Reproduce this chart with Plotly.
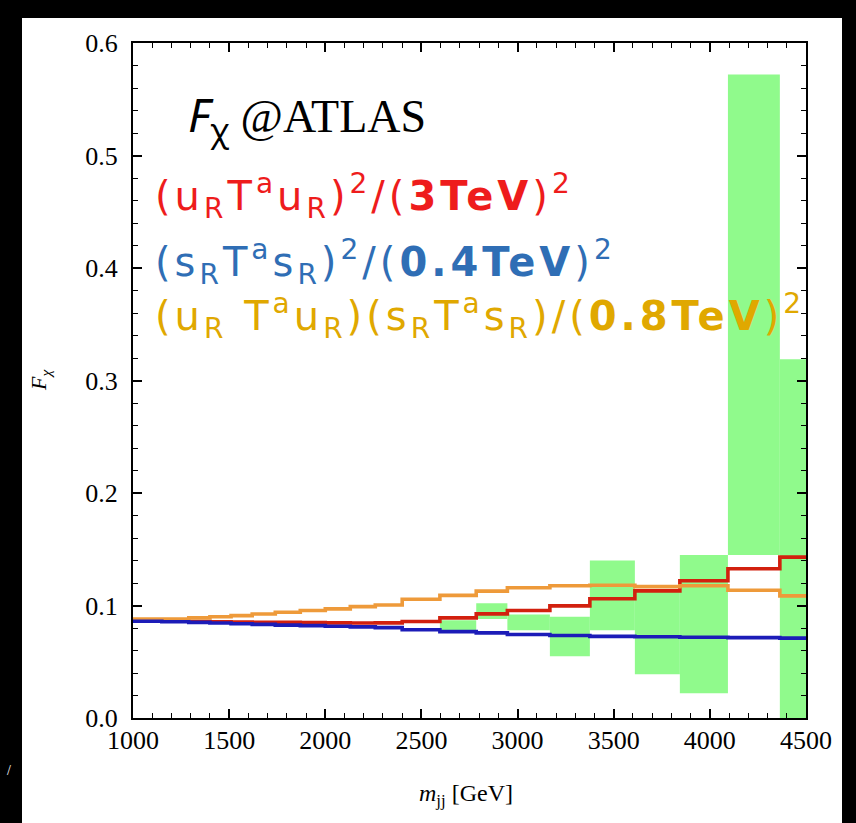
import plotly.graph_objects as go

# ---- data ----
bin_edges = [1000, 1150, 1290, 1400, 1510, 1620, 1740, 1870, 2000, 2130, 2260,
             2400, 2596, 2785, 2947, 3168, 3376, 3610, 3844, 4094, 4364, 4500]
uu_values = [0.086, 0.086, 0.0858, 0.0855, 0.0853, 0.085, 0.085, 0.0848, 0.0846, 0.0845, 0.0846,
             0.0858, 0.089, 0.0926, 0.0955, 0.0997, 0.106, 0.113, 0.122, 0.1327, 0.143]
ss_values = [0.086, 0.0856, 0.085, 0.0845, 0.0838, 0.0832, 0.0826, 0.0821, 0.0815, 0.081, 0.0803,
             0.0785, 0.0768, 0.0757, 0.0742, 0.0733, 0.0726, 0.0722, 0.0718, 0.0714, 0.071]
us_values = [0.088, 0.088, 0.089, 0.090, 0.091, 0.0925, 0.094, 0.0955, 0.097, 0.099, 0.1005,
             0.1055, 0.109, 0.1128, 0.1158, 0.1175, 0.118, 0.1168, 0.1175, 0.1135, 0.1086]

data_edges = [2596, 2785, 2947, 3168, 3376, 3610, 3844, 4094, 4364, 4500]
data_low = [0.078, 0.088, 0.078, 0.055, 0.078, 0.039, 0.022, 0.145, 0.0]
data_high = [0.087, 0.102, 0.092, 0.090, 0.140, 0.112, 0.145, 0.572, 0.319]

x_ticks = [1000, 1500, 2000, 2500, 3000, 3500, 4000, 4500]
y_ticks = [0.0, 0.1, 0.2, 0.3, 0.4, 0.5, 0.6]

# ---- figure ----
fig = go.Figure()

centers = [(a + b) / 2 for a, b in zip(data_edges[:-1], data_edges[1:])]
widths = [b - a for a, b in zip(data_edges[:-1], data_edges[1:])]
fig.add_trace(go.Bar(x=centers, width=widths, base=data_low,
                     y=[h - l for h, l in zip(data_high, data_low)],
                     marker=dict(color="rgb(144,250,140)", line=dict(width=0)),
                     showlegend=False, hoverinfo="skip"))

def step(vals, color, w=3.6):
    fig.add_trace(go.Scatter(x=bin_edges, y=vals + [vals[-1]], mode="lines",
                             line=dict(color=color, width=w, shape="hv"),
                             showlegend=False))

step(uu_values, "#D2200E")
step(us_values, "#EE9A3A")
step(ss_values, "#1C1CB8")

W, H = 856, 823
L, R, T, B = 133, 50, 43, 105
pw, ph = W - L - R, H - T - B

def px(x):
    return (x - L) / pw

def py(y):
    return (H - B - y) / ph

serif = "Liberation Serif"
hand = "DejaVu Sans"
sp = "<span style='letter-spacing:4px'>{}</span>"

fig.update_layout(
    width=W, height=H,
    margin=dict(l=L, r=R, t=T, b=B),
    paper_bgcolor="black",
    plot_bgcolor="white",
    font=dict(family=serif, color="black"),
    barmode="overlay",
    showlegend=False,
    shapes=[dict(type="rect", xref="paper", yref="paper", layer="below",
                 x0=px(22), x1=px(842), y0=py(823), y1=py(18),
                 fillcolor="white", line=dict(width=0))],
    annotations=[
        dict(x=px(186), y=py(117), xref="paper", yref="paper", xanchor="left", yanchor="middle",
             showarrow=False,
             text="<span style='font-family:Noto Sans'><i>F</i><sub>χ</sub></span> @ATLAS",
             font=dict(family=serif, size=46, color="black")),
        dict(x=px(153), y=py(196), xref="paper", yref="paper", xanchor="left", yanchor="middle",
             showarrow=False,
             text=sp.format("(u<sub>R</sub>T<sup>a</sup>u<sub>R</sub>)<sup>2</sup>/(<b>3TeV</b>)<sup>2</sup>"),
             font=dict(family=hand, size=40, color="#EE1C1C")),
        dict(x=px(153), y=py(262), xref="paper", yref="paper", xanchor="left", yanchor="middle",
             showarrow=False,
             text=sp.format("(s<sub>R</sub>T<sup>a</sup>s<sub>R</sub>)<sup>2</sup>/(<b>0.4TeV</b>)<sup>2</sup>"),
             font=dict(family=hand, size=40, color="#2F6EB5")),
        dict(x=px(153), y=py(316), xref="paper", yref="paper", xanchor="left", yanchor="middle",
             showarrow=False,
             text=sp.format("(u<sub>R</sub> T<sup>a</sup>u<sub>R</sub>)(s<sub>R</sub>T<sup>a</sup>s<sub>R</sub>)/(<b>0.8TeV</b>)<sup>2</sup>"),
             font=dict(family=hand, size=40, color="#E0A800")),
        dict(x=px(40), y=py(380), xref="paper", yref="paper", xanchor="center", yanchor="middle",
             showarrow=False, textangle=-90,
             text="<i>F</i><sub><i>χ</i></sub>",
             font=dict(family=serif, size=22, color="black")),
        dict(x=px(466), y=py(795), xref="paper", yref="paper", xanchor="center", yanchor="middle",
             showarrow=False,
             text="<i>m</i><sub>jj</sub> [GeV]",
             font=dict(family=serif, size=24, color="black")),
        dict(x=px(9), y=py(770), xref="paper", yref="paper", xanchor="center", yanchor="middle",
             showarrow=False, text="/",
             font=dict(family=serif, size=14, color="white")),
    ],
)

axis_common = dict(
    showline=True, linewidth=2, linecolor="black", mirror="allticks",
    ticks="inside", ticklen=9, tickwidth=1.5, tickcolor="black",
    showgrid=False, zeroline=False,
    tickfont=dict(family=serif, size=26, color="black"),
)

fig.update_xaxes(range=[1000, 4500], tickvals=x_ticks, ticktext=[str(v) for v in x_ticks],
                 minor=dict(ticks="inside", ticklen=5, tickwidth=1.2, dtick=100, tick0=1000,
                            tickcolor="black", showgrid=False),
                 ticklabelstandoff=-2,
                 **axis_common)
fig.update_yaxes(range=[0, 0.6], tickvals=y_ticks, ticktext=[f"{v:.1f}" for v in y_ticks],
                 minor=dict(ticks="inside", ticklen=5, tickwidth=1.2, dtick=0.02, tick0=0,
                            tickcolor="black", showgrid=False),
                 ticklabelstandoff=8,
                 **axis_common)

fig.write_html("out.html", config={"displayModeBar": False},
               post_script="document.body.style.margin='0';document.body.style.background='black';")
